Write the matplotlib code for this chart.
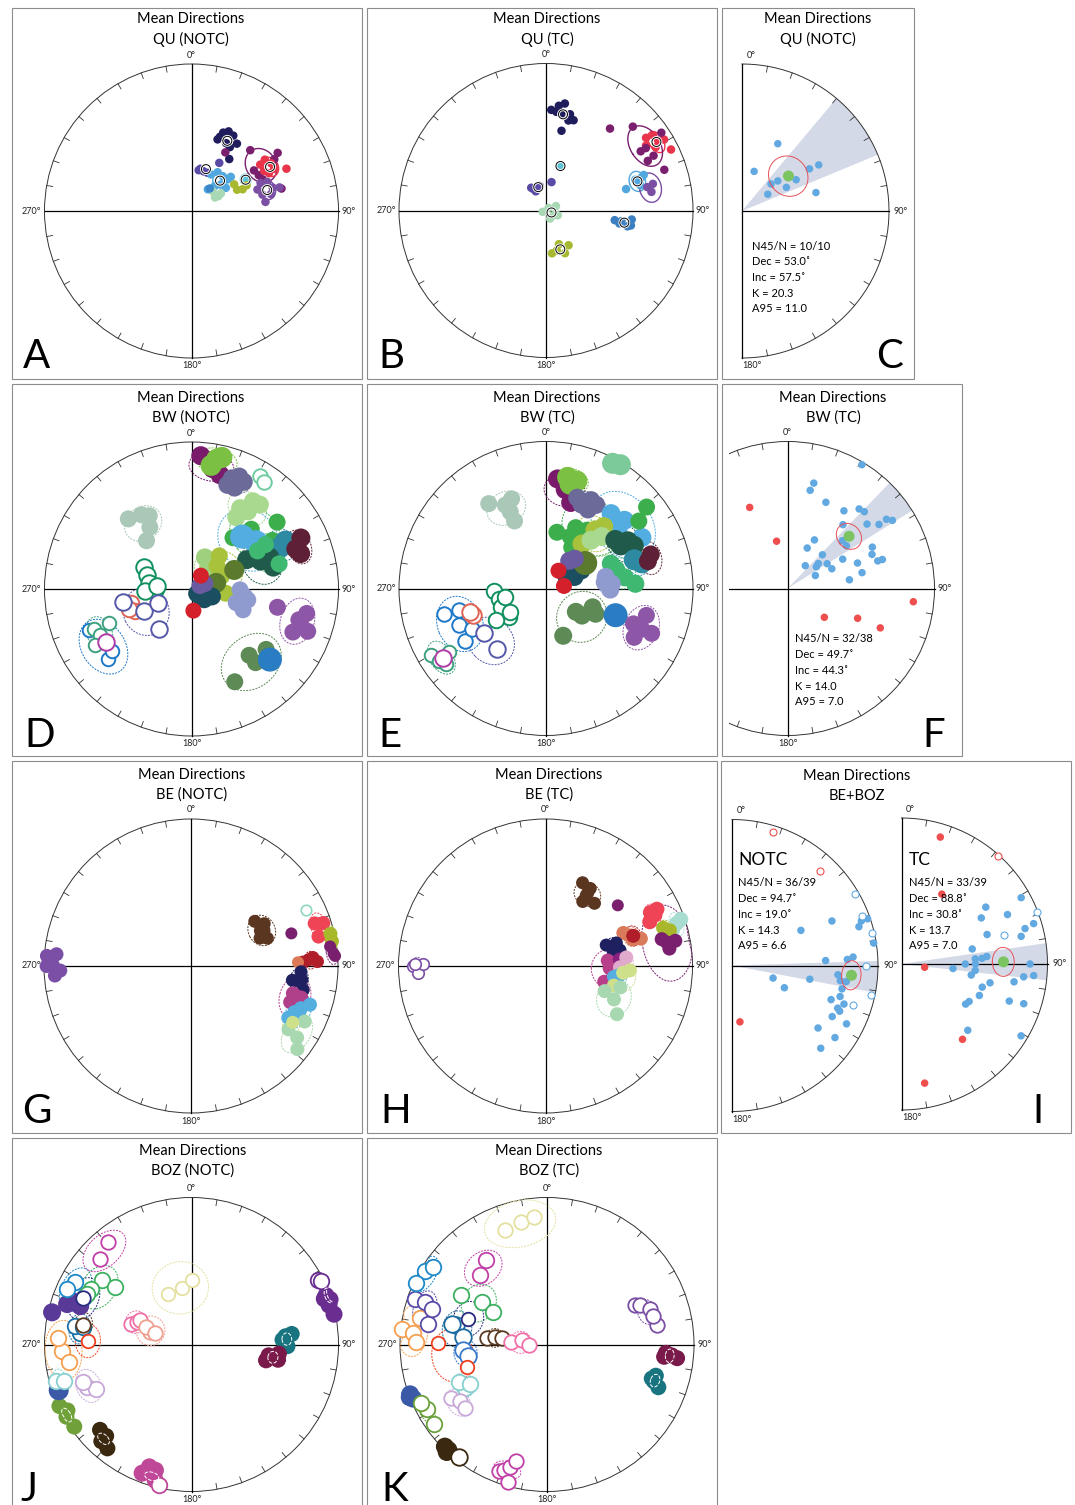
import numpy as np
import matplotlib
matplotlib.use('Agg')
import matplotlib.pyplot as plt
from matplotlib.patches import Circle, Rectangle, Polygon

plt.rcParams['font.family'] = ['Lato', 'DejaVu Sans']

# ----------------------------------------------------------------- DATA
# Panel A  QU (NOTC): site directions (declination, inclination)
A_DEC = [[20, 22, 25, 29, 34, 31, 27, 36, 21], [30, 44, 56, 76, 57, 62, 66, 58],
         [56, 55, 59, 63, 61, 64, 66], [68, 69, 74, 78, 77, 83, 72, 75],
         [12, 17, 10, 23, 30], [28, 34, 42, 49, 49, 37, 43, 48, 56], [60],
         [58, 67, 65, 65], [47, 61, 59, 60], [39]]
A_INC = [[47, 42, 40, 41, 44, 48, 47, 54, 45], [52, 42, 30, 37, 48, 47, 46, 34],
         [43, 39, 37, 37, 43, 41, 30], [48, 44, 42, 44, 49, 48, 51, 38],
         [66, 67, 67, 67, 59], [67, 64, 64, 63, 61, 75, 71, 68, 67], [55],
         [62, 59, 62, 56], [74, 73, 71, 75], [74]]
A_COLOR = ['#1f1d5c', '#7a1f6e', '#e8354b', '#7b4fa3', '#5a4aa5', '#50a8de', '#5cc3d8',
           '#a8b830', '#a8d8b4', '#3a86c8']
A_A95 = [0, 9, 5, 5, 0, 4, 3, 0, 0, 0]
A_RING = [1, 0, 1, 1, 1, 1, 1, 0, 0, 0]

# Panel B  QU (TC)
B_DEC = [[3, 7, 10, 14, 17, 14, 9, 11, 6], [54, 55, 58, 59, 60, 64, 57],
         [38, 46, 56, 71, 64, 58, 58, 63], [75, 71, 71, 70, 75], [80, 77, 76], [18],
         [329, 332, 327, 346, 11], [249, 45, 66, 153, 120, 112],
         [98, 98, 100, 101, 100, 96], [172, 159, 147, 156, 165]]
B_INC = [[32, 29, 27, 33, 36, 37, 34, 44, 33], [17, 12, 11, 7, 15, 6, 20],
         [30, 19, 6, 16, 24, 25, 21, 19], [43, 36, 32, 30, 34], [28, 30, 26], [64],
         [76, 78, 75, 76, 74], [88, 88, 84, 85, 85, 83],
         [51, 47, 41, 43, 48, 41], [66, 70, 67, 64, 67]]
B_COLOR = ['#1f1d5c', '#e8354b', '#7a1f6e', '#50a8de', '#7b4fa3', '#5cc3d8', '#5a4aa5',
           '#a8d8b4', '#3d80c2', '#a8b830']
B_A95 = [0, 5, 10, 5, 7, 0, 0, 0, 0, 0]
B_RING = [1, 1, 0, 1, 0, 1, 1, 1, 1, 1]

# Panel C  QU (NOTC) site means
C_DEC = [28, 17, 47, 57, 50, 62, 60, 58, 59, 76]
C_INC = [47, 67, 68, 73, 64, 62, 55, 45, 39, 47]
C_MEAN = [53.0, 57.5, 11.0]          # dec, inc, a95
C_WEDGE = [40, 67.5]
C_TEXT = ['N45/N = 10/10', 'Dec = 53.0˚', 'Inc = 57.5˚', 'K = 20.3', 'A95 = 11.0']

# Panel D  BW (NOTC)
D_DEC = [[4, 10, 14], [11, 9, 13], [20, 19, 23, 23, 26], [31, 34], [31, 35, 39, 32, 36],
         [39, 46, 45, 59, 52], [54, 44], [63, 65], [65, 72, 69], [62, 68, 75, 68],
         [74, 60, 59], [23, 38, 60], [40, 48, 97, 67], [76, 66], [129, 129, 110, 131],
         [68, 68], [175, 35], [91, 98, 107, 112, 101], [102, 106, 102, 113, 110, 108],
         [139, 139, 129, 155], [132], [318, 326, 330, 326, 317],
         [295, 288, 278, 269, 267, 275], [257, 249, 252], [245, 248, 219, 259],
         [248, 230, 232], [248, 248, 243, 240], [238]]
D_INC = [[10, 18, 21], [11, 16, 9], [21, 26, 18, 26, 20], [-11, -13], [36, 28, 27, 42, 35],
         [53, 50, 42, 36, 27], [45, 49], [29, 34], [19, 23, 25], [55, 48, 42, 42],
         [38, 47, 41], [71, 75, 76], [66, 71, 71, 72], [76, 64], [86, 81, 78, 83],
         [85, 82], [78, 81], [63, 60, 64, 59, 58], [40, 25, 21, 26, 17, 23],
         [40, 34, 35, 31], [29], [36, 39, 42, 48, 53],
         [-61, -64, -66, -70, -64, -71], [-55, -56, -53], [-61, -70, -61, -51],
         [-26, -27, -32], [-29, -39, -31, -25], [-32]]
D_COLOR = ['#7a1a6a', '#7bc043', '#6b6a98', '#6fcba0', '#a9d98f', '#3cae4c', '#54ade1',
           '#2e8aa2', '#5e2036', '#1f5a4b', '#3fb872', '#9ed07e', '#a9c23c', '#5b7a2e',
           '#1b4e60', '#6a5aa0', '#d4202a', '#8f9bcf', '#8e56a6', '#5d8a55', '#2a7dc2',
           '#a9c8b8', '#10905f', '#e06454', '#5558a8', '#1e78c8', '#3ca080', '#b03ca8']
D_SIZE = [19, 21, 18, 16, 18, 17, 24, 21, 19, 19, 17, 18, 17, 20, 18, 17, 16, 17, 17, 17,
          24, 17, 18, 17, 18, 15, 15, 18]
D_A95 = [10, 9, 7, 0, 10, 14, 17, 8, 8, 12, 10, 8, 12, 0, 0, 0, 0, 6, 11, 16, 0, 10,
         0, 5, 13, 14, 8, 0]

# Panel E  BW (TC)
E_DEC = [[31, 28], [6, 11, 16], [13, 16, 11], [23, 27, 28, 31, 19], [326, 334, 339, 335, 335],
         [41, 49, 50, 62], [11, 25, 26, 32, 51, 54, 35], [40, 43, 39], [47, 43],
         [55, 60, 64, 60], [72, 75], [75, 72], [75, 82, 87, 69], [48, 68, 61, 63], [57],
         [40, 44], [82, 35], [79, 86, 91, 84], [128, 112, 117, 160, 127], [111],
         [112, 105, 113, 119, 113], [267, 258, 247, 233, 238, 258, 237],
         [256, 256, 247, 237, 241], [250, 253], [234, 219], [240, 236, 233, 237], [236]]
E_INC = [[2, 4], [26, 32, 39], [28, 25, 24], [38, 33, 39, 34, 35], [31, 37, 35, 48, 42],
         [33, 30, 36, 27], [58, 58, 52, 63, 13, 23, 50], [47, 42, 58], [47, 53],
         [42, 36, 34, 41], [37, 33], [29, 26], [49, 45, 39, 51], [74, 73, 77, 68], [64],
         [70, 67], [80, 78], [56, 53, 54, 57], [69, 62, 59, 62, 65], [48],
         [36, 30, 23, 32, 30], [-61, -63, -63, -64, -57, -67, -66],
         [-29, -39, -36, -35, -42], [-46, -45], [-47, -46], [-11, -13, -16, -22], [-17]]
E_COLOR = ['#7cc99a', '#7a1a6a', '#7bc043', '#6b6a98', '#a9c8b8', '#54ade1', '#3cae4c',
           '#a9c23c', '#a9d98f', '#1f5a4b', '#2e8aa2', '#5e2036', '#3fb872', '#1b4e60',
           '#5b7a2e', '#6a5aa0', '#d4202a', '#8f9bcf', '#5d8a55', '#2a7dc2', '#8e56a6',
           '#10905f', '#1e78c8', '#e06454', '#5558a8', '#3ca080', '#b03ca8']
E_SIZE = [21, 19, 21, 18, 17, 19, 17, 19, 19, 20, 21, 18, 18, 18, 24, 18, 16, 18, 18, 24,
          17, 17, 16, 18, 18, 15, 18]
E_A95 = [0, 10, 8, 7, 10, 18, 16, 10, 10, 10, 7, 8, 8, 0, 0, 0, 0, 6, 14, 0, 11, 0, 14,
         5, 13, 8, 0]

# Panel F  BW (TC) site means
F_DEC = [31, 14, 13, 24, 36, 42, 45, 41, 51, 55, 55, 57, 29, 26, 46, 38, 53, 51, 58, 66, 65,
         62, 70, 78, 82, 64, 68, 73, 73, 54, 49]
F_INC = [2, 27, 32, 36, 35, 28, 27, 42, 31, 25, 19, 16, 59, 65, 63, 74, 70, 68, 64, 63, 73,
         55, 48, 47, 55, 36, 38, 36, 33, 49, 49]
F_REJ_DEC = [335, 347, 128, 113, 113, 96]
F_REJ_INC = [39, 63, 64, 47, 32, 15]
F_MEAN = [49.7, 44.3, 7.0]
F_WEDGE = [44, 58]
F_TEXT = ['N45/N = 32/38', 'Dec = 49.7˚', 'Inc = 44.3˚', 'K = 14.0', 'A95 = 7.0']

# Panel G  BE (NOTC)
G_DEC = [[274, 275, 270, 266, 270, 268], [55, 60, 63, 70, 68, 64], [72], [71, 72, 77, 72],
         [77, 80], [82, 85, 86], [64], [87, 86, 88, 88], [88], [93, 98, 98, 102, 97],
         [105, 110, 106, 106], [118, 114, 111, 108, 113], [123, 124, 128, 116], [119]]
G_INC = [[2, 9, 7, 8, 2, 12], [46, 42, 46, 44, 48, 44], [29], [12, 8, 12, 6], [3, 3],
         [5, 3, 2], [-14], [21, 18, 25, 15], [28], [26, 31, 28, 23, 25], [29, 29, 23, 26],
         [26, 24, 21, 16, 21], [22, 14, 9, 15], [22]]
G_COLOR = ['#7a4fa5', '#5a3520', '#7a1f6e', '#ee4456', '#a8b82a', '#7a1f6e', '#8fd8c0',
           '#b01e2a', '#dc7a58', '#1f2060', '#b0408a', '#55aee0', '#a8d8b0', '#cfe08a']
G_SIZE = [14, 13, 12, 14, 14, 12, 12, 13, 12, 13, 14, 14, 14, 13]
G_A95 = [4, 8, 0, 6, 5, 5, 0, 4, 0, 6, 10, 8, 9, 6]

# Panel H  BE (TC)
H_DEC = [[270, 267, 271, 271], [24, 30, 30, 30, 38, 30], [50], [63, 65, 67, 63], [72, 71, 74],
         [72, 74, 76], [77, 82, 79, 79], [67, 73, 74, 70], [71], [71, 72, 78, 77],
         [85, 92, 88, 105], [85], [91, 84], [99, 97], [106, 95, 93], [113, 116, 124, 106]]
H_INC = [[-11, -14, -18, -12], [38, 39, 44, 48, 45, 42], [36], [21, 19, 24, 16], [7, 3, 11],
         [17, 13, 16], [20, 16, 11, 17], [42, 38, 33, 39], [37], [54, 48, 47, 51],
         [55, 54, 52, 56], [48], [48, 44], [51, 48], [50, 46, 42], [54, 47, 41, 46]]
H_COLOR = ['#7a4fa5', '#5a3520', '#7a1f6e', '#ee4456', '#a8dcd0', '#a8b82a', '#7a1f6e',
           '#d97a5a', '#b01e2a', '#1f2060', '#b8408a', '#8a2080', '#e0aacc', '#55aee0',
           '#cfe08a', '#a8d8b0']
H_SIZE = [13, 13, 12, 15, 15, 14, 14, 14, 14, 13, 14, 14, 14, 14, 14, 14]
H_A95 = [4, 7, 0, 5, 5, 5, 17, 5, 5, 5, 10, 0, 6, 6, 8, 10]

# Panel I  BE+BOZ site means (NOTC and TC)
I_N_DEC = [66, 63, 73, 71, 71, 81, 87, 87, 86, 95, 98, 102, 109, 106, 109, 112, 113, 117, 117,
           126, 125, 133, 107, 113, 100, 98, 60, 69, 77, 90, 102, 108]
I_N_INC = [26, 46, 10, 7, 2, 2, 36, 22, 18, 28, 22, 24, 29, 24, 20, 23, 21, 24, 13, 28, 15, 18,
           66, 58, 45, 26, -3, -5, -2, -9, -3, -14]
I_N_REJ_DEC = [172, 17, 43]
I_N_REJ_INC = [58, -5, -13]
I_N_MEAN = [94.7, 19.0, 6.6]
I_N_WEDGE = [88.2, 100.8]
I_N_TEXT = ['N45/N = 36/39', 'Dec = 94.7˚', 'Inc = 19.0˚', 'K = 14.3', 'A95 = 6.6']
I_T_DEC = [61, 56, 60, 65, 73, 74, 77, 71, 78, 86, 86, 85, 90, 90, 95, 95, 99, 90, 95, 96, 99,
           102, 106, 112, 119, 122, 109, 108, 135, 121, 69, 74]
I_T_INC = [7, 31, 37, 21, 6, 13, 17, 38, 49, 48, 44, 41, 54, 48, 61, 48, 50, 13, 10, 17, 23,
           38, 42, 42, 46, 47, 23, 13, 36, 5, -1, -28]
I_T_REJ_DEC = [17, 30, 98, 141, 169, 42]
I_T_REJ_INC = [10, 44, 77, 34, 18, -1]
I_T_MEAN = [88.8, 30.8, 7.0]
I_T_WEDGE = [81.8, 96.4]
I_T_TEXT = ['N45/N = 33/39', 'Dec = 88.8˚', 'Inc = 30.8˚', 'K = 13.7', 'A95 = 7.0']

# Panel J  BOZ (NOTC)
J_DEC = [[70, 72, 78, 74, 71, 63, 64], [85, 91, 87, 84], [98, 100, 102, 96],
         [201, 199, 196, 195, 193], [227, 223, 219, 223], [245, 240, 235, 242], [251],
         [255, 254], [248, 245, 251], [267, 262, 273], [283, 288, 290, 289], [276, 279, 279],
         [280], [272], [298, 294, 294], [306, 307, 299, 296], [313, 321], [289, 292, 295],
         [287, 291, 287], [335, 350, 0], [293]]
J_INC = [[3, 1, 1, 3, 5, -4, -2], [36, 35, 38, 32], [46, 40, 47, 40], [7, 13, 12, 5, -2],
         [16, 16, 10, 11], [1, 2, 3, 5], [5], [-5, -11], [-24, -29, -23], [-13, -17, -10],
         [3, 12, 16, 21], [-25, -21, -26], [-26], [-30], [-11, -8, -21], [-26, -35, -23, -22],
         [-16, -11], [-54, -57, -58], [-66, -63, -69], [-59, -58, -54], [-21]]
J_COLOR = ['#6a2e90', '#187580', '#7a1a4a', '#c04898', '#3a2810', '#6fa03a', '#3a5aa8',
           '#88d0d0', '#c8a8d8', '#f5a050', '#5a3a98', '#1a70a8', '#5a3a20', '#f04020',
           '#1e88c8', '#3cb060', '#c040a8', '#f070a8', '#f0a090', '#e4e0a0', '#2a2a80']
J_SIZE = [17, 16, 16, 17, 16, 16, 20, 17, 17, 17, 18, 17, 16, 15, 17, 17, 16, 16, 16, 15, 16]
J_A95 = [3, 3, 3, 3, 3, 3, 0, 5, 8, 13, 0, 7, 6, 8, 10, 11, 11, 6, 8, 15, 10]

# Panel K  BOZ (TC)
K_DEC = [[66, 67, 71, 80, 75], [94, 95, 96, 96], [106, 109, 111, 108], [201, 199, 197, 195, 196],
         [225, 223, 223, 218], [250, 248, 249], [242, 245, 235], [242, 247, 243],
         [241, 237, 232], [276, 275, 282, 271], [289, 289, 280, 287], [301, 304, 295],
         [282, 282, 275], [266, 262], [271, 254], [303, 301, 300], [288], [316, 324],
         [276, 278, 278], [274, 280, 268], [340, 348, 354]]
K_INC = [[-35, -32, -27, -25, -26], [20, 16, 12, 21], [24, 24, 20, 26], [-9, -11, -14, -19, -3],
         [2, 2, 0, -3], [1, 2, 0], [-8, -6, -7], [-37, -35, -41], [-26, -30, -30],
         [-1, -9, -13, -12], [-6, -13, -19, -19], [-4, -7, -2], [-37, -34, -42], [-42, -45],
         [-27, -43], [-46, -55, -33], [-43], [-35, -30], [-56, -61, -65], [-70, -76, -80],
         [-18, -16, -14]]
K_COLOR = ['#7a4fa5', '#7a1a4a', '#187580', '#c040a8', '#3a2810', '#3a5aa8', '#6aa03a',
           '#88d0d0', '#c8a8d8', '#f5a050', '#5a4aa8', '#1e88c8', '#1a6aa0', '#3a78c8',
           '#f04020', '#3cb060', '#2a2a80', '#c040a8', '#5a3a20', '#f070a8', '#e4e0a0']
K_SIZE = [16, 16, 16, 16, 18, 18, 17, 17, 16, 17, 17, 17, 18, 18, 15, 17, 15, 17, 16, 16, 16]
K_A95 = [6, 3, 3, 6, 0, 0, 5, 6, 7, 11, 8, 8, 9, 7, 13, 10, 9, 10, 5, 6, 16]

# ----------------------------------------------------------------- DRAWING
W, H = 1075, 1505
fig = plt.figure(figsize=(W / 100, H / 100), dpi=100)
ax = fig.add_axes([0, 0, 1, 1])
ax.set_xlim(0, W)
ax.set_ylim(H, 0)
ax.axis('off')

PX = 0.72  # points per pixel
R0 = 147
DOT = (0, (2.0, 1.2))


def proj(dec, inc, cx, cy, R=R0):
    d = np.radians(np.asarray(dec, float))
    i = np.radians(np.abs(np.asarray(inc, float)))
    r = R * np.sqrt(2) * np.sin((np.pi / 2 - i) / 2)
    return cx + r * np.sin(d), cy - r * np.cos(d)


def vec(dec, inc):
    d, i = np.radians(dec), np.radians(inc)
    return np.array([np.cos(i) * np.cos(d), np.cos(i) * np.sin(d), np.sin(i)])


def to_di(v):
    v = v / np.linalg.norm(v, axis=0)
    return np.degrees(np.arctan2(v[1], v[0])) % 360, np.degrees(np.arcsin(np.clip(v[2], -1, 1)))


def site_mean(decs, incs):
    s = np.sum([vec(d, i) for d, i in zip(decs, incs)], axis=0)
    return to_di(s)


def cone(dec, inc, a95, n=120):
    D, I = np.radians(dec), np.radians(inc)
    m = vec(dec, inc)
    u = np.array([-np.sin(I) * np.cos(D), -np.sin(I) * np.sin(D), np.cos(I)])
    v = np.array([-np.sin(D), np.cos(D), 0.0])
    t = np.linspace(0, 2 * np.pi, n)
    a = np.radians(a95)
    pts = (np.cos(a) * m[:, None] + np.sin(a) * (np.outer(u, np.cos(t)) + np.outer(v, np.sin(t))))
    dd, ii = to_di(pts)
    ii = np.abs(ii) * (1 if inc >= 0 else -1)
    return dd, ii


def box(x0, y0, x1, y1):
    ax.add_patch(Rectangle((x0, y0), x1 - x0, y1 - y0, fill=False, ec='#8c8c8c', lw=0.8,
                           zorder=1))


def title(x, y, line2):
    ax.text(x, y, 'Mean Directions', ha='center', va='center', fontsize=10.5, zorder=10)
    ax.text(x, y + 20, line2, ha='center', va='center', fontsize=10.5, zorder=10)


def letter(x, y, s, ha='left'):
    ax.text(x, y, s, ha=ha, va='baseline', fontsize=29, zorder=10)


def lab(x, y, s, ha='center', va='center'):
    ax.text(x, y, s, ha=ha, va=va, fontsize=6.5, zorder=10, color='#222')


def net(cx, cy, R=R0, half=False, clip=None, lab270=True):
    arts = []
    if half:
        t = np.radians(np.linspace(0, 180, 200))
        arts += ax.plot(cx + R * np.sin(t), cy - R * np.cos(t), color='#333', lw=0.7, zorder=3)
        arts += ax.plot([cx, cx], [cy - R, cy + R], color='k', lw=0.9, zorder=3)
        arts += ax.plot([cx, cx + R], [cy, cy], color='k', lw=0.9, zorder=3)
        rng = range(10, 180, 10)
    else:
        c = Circle((cx, cy), R, fill=False, ec='#333', lw=0.7, zorder=3)
        ax.add_patch(c)
        arts.append(c)
        arts += ax.plot([cx, cx], [cy - R, cy + R], color='k', lw=0.9, zorder=3)
        arts += ax.plot([cx - R, cx + R], [cy, cy], color='k', lw=0.9, zorder=3)
        rng = range(10, 360, 10)
    for d in rng:
        if d % 90 == 0:
            continue
        a = np.radians(d)
        arts += ax.plot([cx + R * np.sin(a), cx + (R - 6) * np.sin(a)],
                        [cy - R * np.cos(a), cy - (R - 6) * np.cos(a)],
                        color='#333', lw=0.6, zorder=3)
    if clip is not None:
        cp = Rectangle(clip[:2], clip[2], clip[3], transform=ax.transData)
        for a_ in arts:
            a_.set_clip_path(cp)
    if half:
        lab(cx + 9, cy - R - 9, '0°')
        lab(cx + R + 5, cy, '90°', ha='left')
        lab(cx + 10, cy + R + 8, '180°')
    else:
        lab(cx, cy - R - 9, '0°')
        lab(cx + R + 3, cy, '90°', ha='left')
        lab(cx, cy + R + 8, '180°')
        if lab270:
            lab(cx - R - 3, cy, '270°', ha='right')


def sites(cx, cy, decs, incs, colors, sizes, a95s, ell_ls=DOT, ell_lw=0.7, rings=None,
          white_small=False, open_lw=1.2):
    means = [site_mean(d, i) for d, i in zip(decs, incs)]
    white_list = []
    for k, (md, mi) in enumerate(means):
        if a95s[k] <= 0:
            continue
        if white_small and a95s[k] <= 3:
            white_list.append(k)
            continue
        dd, ii = cone(md, mi, a95s[k])
        x, y = proj(dd, ii, cx, cy)
        ax.plot(x, y, color=colors[k], ls=ell_ls, lw=ell_lw, zorder=4)
    for k in range(len(decs)):
        x, y = proj(decs[k], incs[k], cx, cy)
        s = sizes[k] if np.ndim(sizes) else sizes
        for xi, yi, inc in zip(x, y, incs[k]):
            if inc >= 0:
                ax.scatter([xi], [yi], s=(s * PX) ** 2, c=colors[k], edgecolors='none',
                           zorder=5)
            else:
                ax.scatter([xi], [yi], s=((s - 1.5) * PX) ** 2, facecolors='white',
                           edgecolors=colors[k], linewidths=open_lw, zorder=5)
    for k in white_list:
        md, mi = means[k]
        dd, ii = cone(md, mi, a95s[k])
        x, y = proj(dd, ii, cx, cy)
        ax.plot(x, y, color='white', ls='--', lw=0.7, zorder=6)
    if rings is not None:
        for k, r in enumerate(rings):
            if r:
                md, mi = means[k]
                x, y = proj([md], [mi], cx, cy)
                ax.scatter(x, y, s=(9 * PX) ** 2, facecolors='none', edgecolors='white',
                           linewidths=2.0, zorder=6)
                ax.scatter(x, y, s=(9 * PX) ** 2, facecolors='none', edgecolors='k',
                           linewidths=0.7, zorder=7)


def summary(cx, cy, dec, inc, rej_dec, rej_inc, mean, wedge, R=R0, dsize=7.5):
    t = np.radians(np.linspace(wedge[0], wedge[1], 50))
    poly = [(cx, cy)] + [(cx + R * np.sin(a), cy - R * np.cos(a)) for a in t]
    ax.add_patch(Polygon(poly, closed=True, fc='#d3d9e7', ec='none', zorder=2))
    for dd, ii, col in ((dec, inc, '#62a9e2'), (rej_dec, rej_inc, '#ef4e4e')):
        x, y = proj(dd, ii, cx, cy, R)
        for xi, yi, i in zip(x, y, ii):
            if i >= 0:
                ax.scatter([xi], [yi], s=(dsize * PX) ** 2, c=col, edgecolors='none', zorder=5)
            else:
                ax.scatter([xi], [yi], s=((dsize - 0.5) * PX) ** 2, facecolors='white',
                           edgecolors=col, linewidths=0.8, zorder=5)
    dd, ii = cone(mean[0], mean[1], mean[2])
    x, y = proj(dd, ii, cx, cy, R)
    ax.plot(x, y, color='#e8505a', lw=0.7, zorder=6)
    x, y = proj([mean[0]], [mean[1]], cx, cy, R)
    ax.scatter(x, y, s=(11 * PX) ** 2, c='#7cc462', edgecolors='none', zorder=7)


def stats(x, y0, lines, step=15.7):
    for j, s in enumerate(lines):
        ax.text(x, y0 + j * step, s, ha='left', va='center', fontsize=8, zorder=10)


# ---------------- Row 1
box(12, 8, 362, 379); box(367, 8, 717, 379); box(722, 8, 914, 379)
title(191, 19, 'QU (NOTC)'); title(547, 19, 'QU (TC)'); title(818, 19, 'QU (NOTC)')
net(191.5, 211); net(546, 210.5); net(742, 211, half=True)
sites(191.5, 211, A_DEC, A_INC, A_COLOR, 8.5, A_A95, ell_ls='-', ell_lw=1.0, rings=A_RING)
sites(546, 210.5, B_DEC, B_INC, B_COLOR, 8.5, B_A95, ell_ls='-', ell_lw=1.0, rings=B_RING)
summary(742, 211, C_DEC, C_INC, [], [], C_MEAN, C_WEDGE)
stats(752, 246, C_TEXT)
letter(23, 368, 'A'); letter(378, 368, 'B'); letter(903, 368, 'C', ha='right')

# ---------------- Row 2
box(12, 384, 362, 756); box(367, 384, 717, 756); box(722, 384, 962, 756)
title(191, 398, 'BW (NOTC)'); title(547, 398, 'BW (TC)'); title(833, 398, 'BW (TC)')
net(191.5, 589); net(546, 588.5)
net(787.5, 588.5, clip=(729, 384, 233, 372), lab270=False)
sites(191.5, 589, D_DEC, D_INC, D_COLOR, D_SIZE, D_A95, open_lw=1.4)
sites(546, 588.5, E_DEC, E_INC, E_COLOR, E_SIZE, E_A95, open_lw=1.4)
summary(787.5, 588.5, F_DEC, F_INC, F_REJ_DEC, F_REJ_INC, F_MEAN, F_WEDGE)
stats(795, 639, F_TEXT)
letter(24, 747, 'D'); letter(378, 747, 'E'); letter(945, 747, 'F', ha='right')

# ---------------- Row 3
box(12, 761, 362, 1133); box(367, 761, 717, 1133); box(721, 761, 1071, 1133)
title(192, 775, 'BE (NOTC)'); title(549, 775, 'BE (TC)'); title(857, 776, 'BE+BOZ')
net(191, 966); net(545.5, 966)
net(732, 965.5, R=146, half=True); net(901.5, 964, R=146, half=True)
sites(191, 966, G_DEC, G_INC, G_COLOR, G_SIZE, G_A95)
sites(545.5, 966, H_DEC, H_INC, H_COLOR, H_SIZE, H_A95)
summary(732, 965.5, I_N_DEC, I_N_INC, I_N_REJ_DEC, I_N_REJ_INC, I_N_MEAN, I_N_WEDGE, R=146)
summary(901.5, 964, I_T_DEC, I_T_INC, I_T_REJ_DEC, I_T_REJ_INC, I_T_MEAN, I_T_WEDGE, R=146)
ax.text(738, 860, 'NOTC', ha='left', va='center', fontsize=12.5, zorder=10)
ax.text(909, 860, 'TC', ha='left', va='center', fontsize=12.5, zorder=10)
stats(738, 883, I_N_TEXT)
stats(909, 883, I_T_TEXT)
letter(22, 1123, 'G'); letter(380, 1123, 'H'); letter(1044, 1123, 'I', ha='right')

# ---------------- Row 4
box(12, 1138, 362, 1510); box(367, 1138, 717, 1510)
title(193, 1151, 'BOZ (NOTC)'); title(549, 1151, 'BOZ (TC)')
net(191.5, 1344.5); net(547, 1344.5)
sites(191.5, 1344.5, J_DEC, J_INC, J_COLOR, J_SIZE, J_A95, white_small=True, open_lw=1.3)
sites(547, 1344.5, K_DEC, K_INC, K_COLOR, K_SIZE, K_A95, white_small=True, open_lw=1.3)
letter(20, 1501, 'J'); letter(381, 1501, 'K')

fig.savefig('out.png', dpi=100)
